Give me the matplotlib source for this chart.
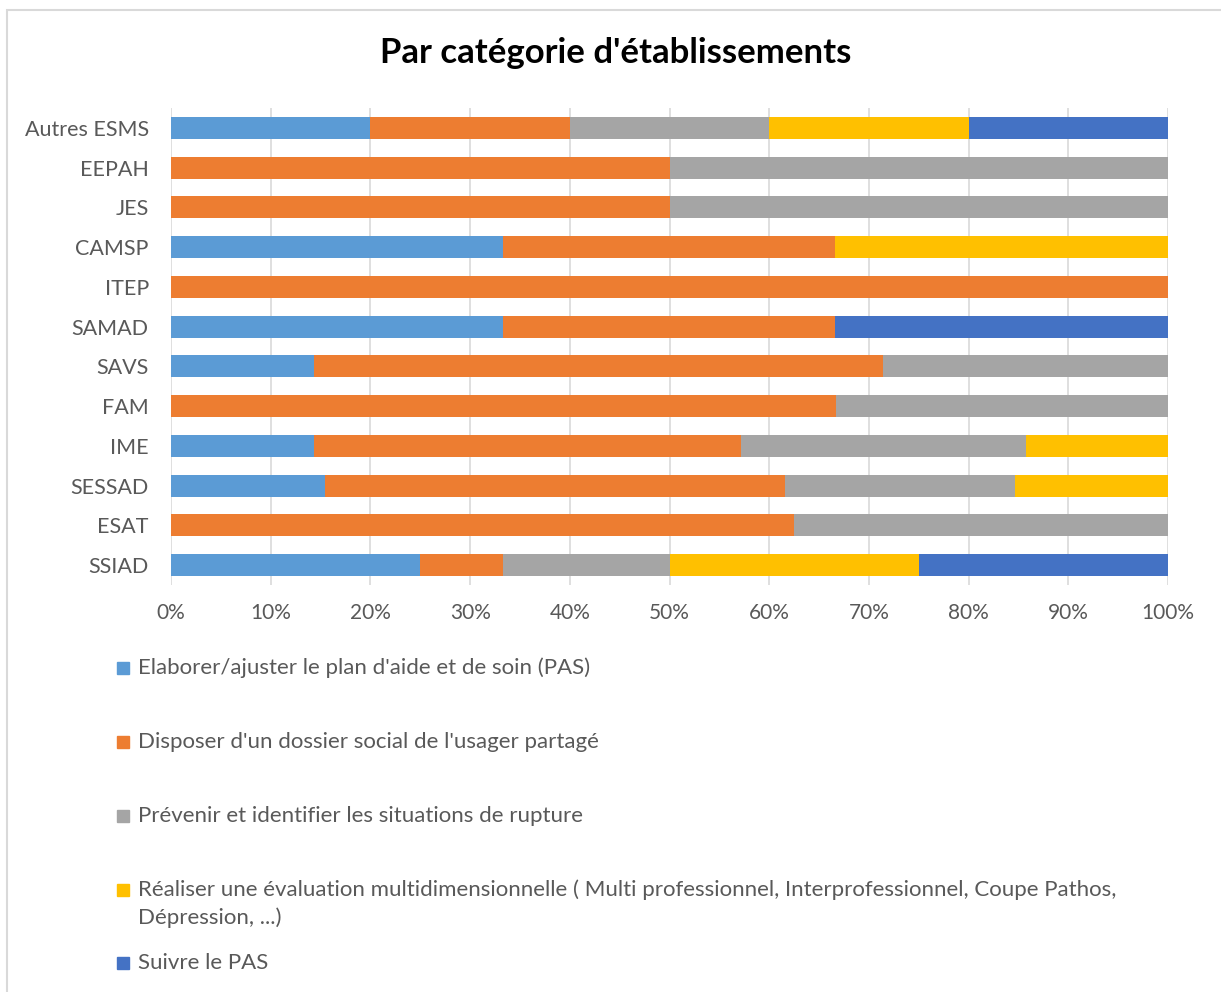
import matplotlib.pyplot as plt
from matplotlib.patches import Rectangle

categories = ["SSIAD", "ESAT", "SESSAD", "IME", "FAM", "SAVS",
              "SAMAD", "ITEP", "CAMSP", "JES", "EEPAH", "Autres ESMS"]

# shares in % per category (bottom to top)
pas = [25, 0, 15.4, 14.3, 0, 14.3, 33.3, 0, 33.3, 0, 0, 20]
dossier = [8.3, 62.5, 46.2, 42.9, 66.7, 57.1, 33.3, 100, 33.3, 50, 50, 20]
rupture = [16.7, 37.5, 23.1, 28.6, 33.3, 28.6, 0, 0, 0, 50, 50, 20]
evaluation = [25, 0, 15.4, 14.3, 0, 0, 0, 0, 33.4, 0, 0, 20]
suivre = [25, 0, 0, 0, 0, 0, 33.4, 0, 0, 0, 0, 20]

series_labels = [
    "Elaborer/ajuster le plan d'aide et de soin (PAS)",
    "Disposer d'un dossier social de l'usager partagé",
    "Prévenir et identifier les situations de rupture",
    "Réaliser une évaluation multidimensionnelle ( Multi professionnel, Interprofessionnel, Coupe Pathos,\nDépression, ...)",
    "Suivre le PAS",
]
colors = ["#5B9BD5", "#ED7D31", "#A5A5A5", "#FFC000", "#4472C4"]
xticks = list(range(0, 101, 10))

plt.rcParams['font.family'] = ['Lato', 'DejaVu Sans']
W, H = 1221, 992
fig = plt.figure(figsize=(W / 100, H / 100), dpi=100)

# chart border
fig.patches.append(Rectangle((7 / W, -0.05), 1.2, 1 - 10 / H + 0.05,
                             transform=fig.transFigure, fill=False,
                             edgecolor="#d9d9d9", linewidth=1.5))

ax = fig.add_axes([171 / W, 1 - 585 / H, 997 / W, 477 / H])
left = [0] * len(categories)
for vals, col in zip([pas, dossier, rupture, evaluation, suivre], colors):
    ax.barh(categories, vals, left=left, height=0.556, color=col,
            linewidth=0, zorder=3)
    left = [a + b for a, b in zip(left, vals)]

ax.set_xlim(0, 100)
ax.set_ylim(-0.5, len(categories) - 0.5)
ax.set_xticks(xticks, [f"{t}%" for t in xticks])
ax.grid(axis='x', color="#d9d9d9", linewidth=1.2, zorder=0)
for s in ax.spines.values():
    s.set_visible(False)
ax.tick_params(axis='y', length=0, pad=16, labelsize=15.5, labelcolor="#595959")
ax.tick_params(axis='x', length=0, pad=13, labelsize=15, labelcolor="#595959")

fig.text(616 / W, 1 - 53 / H, "Par catégorie d'établissements",
         ha='center', va='center', fontsize=25, fontweight='bold')

# legend drawn by hand to follow the reference layout
legend_y = [668, 742, 816, 890, 963]
for lab, col, y in zip(series_labels, colors, legend_y):
    fig.patches.append(Rectangle((117 / W, 1 - (y + 6) / H), 12 / W, 12 / H,
                                 transform=fig.transFigure, color=col))
    for i, line in enumerate(lab.split("\n")):
        fig.text(138 / W, 1 - (y + 28 * i) / H, line, ha='left', va='center',
                 fontsize=16, color="#595959")

fig.savefig("out.png", dpi=100)
